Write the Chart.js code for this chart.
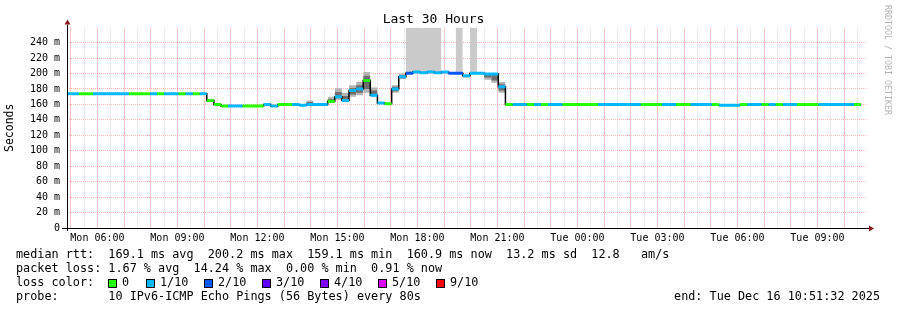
<!DOCTYPE html>
<html>
<head>
<meta charset="utf-8">
<title>Last 30 Hours</title>
<script src="https://cdn.jsdelivr.net/npm/chart.js@4/dist/chart.umd.min.js"></script>
<style>
  body { margin: 0; background: #fff; }
  #wrap { position: relative; width: 897px; height: 310px; font-family: 'DejaVu Sans Mono', monospace; color: #000; }
  #chart { position: absolute; left: 0; top: 0; }
  .line { position: absolute; left: 16px; font-size: 11.8px; line-height: 14px; white-space: pre; }
  .item { position: absolute; top: 0; white-space: pre; }
  .box { position: absolute; left: 0; top: 4px; width: 7px; height: 7px; border: 1px solid #000; }
  .item span.lbl { position: absolute; left: 14px; top: 0; }
  #end { position: absolute; right: 17px; top: 289px; font-size: 11.8px; line-height: 14px; white-space: pre; }
  #credit { position: absolute; left: 883px; top: 5px; writing-mode: vertical-rl; font-size: 8.3px; color: #b4b4b4; white-space: pre; }
</style>
</head>
<body>
<div id="wrap">
  <canvas id="chart" width="897" height="310"></canvas>
  <div class="line" style="top:247px">median rtt:  169.1 ms avg  200.2 ms max  159.1 ms min  160.9 ms now  13.2 ms sd  12.8   am/s</div>
  <div class="line" style="top:261px">packet loss: 1.67 % avg  14.24 % max  0.00 % min  0.91 % now</div>
  <div class="line" id="lossLine" style="top:275px">loss color:</div>
  <div class="line" style="top:289px">probe:       10 IPv6-ICMP Echo Pings (56 Bytes) every 80s</div>
  <div id="end">end: Tue Dec 16 10:51:32 2025</div>
  <div id="credit">RRDTOOL / TOBI OETIKER</div>
</div>
<script>
// time axis in minutes since Mon 00:00
const startMinute = 291.53;   // Mon 04:51:32
const endMinute = 2091.53;    // Tue 10:51:32

const xTickMinutes = [360, 540, 720, 900, 1080, 1260, 1440, 1620, 1800, 1980];
const xTickLabels = ['Mon 06:00', 'Mon 09:00', 'Mon 12:00', 'Mon 15:00', 'Mon 18:00',
                     'Mon 21:00', 'Tue 00:00', 'Tue 03:00', 'Tue 06:00', 'Tue 09:00'];

// median rtt (ms), one run per constant step, coloured by packet loss (tenths)
const runStart = [291.53, 318, 350, 430, 478, 494, 510, 542, 558, 574, 590, 606, 622, 638, 654, 686,
                  734, 750, 766, 798, 814, 830, 878, 894, 910, 926, 942, 958, 974, 990, 1006, 1022,
                  1038, 1054, 1070, 1086, 1102, 1118, 1134, 1150, 1182, 1198, 1230, 1262, 1278, 1294,
                  1326, 1342, 1358, 1374, 1406, 1486, 1582, 1630, 1662, 1694, 1742, 1758, 1806, 1822,
                  1854, 1870, 1886, 1902, 1934, 1982, 2062];
const runMedian = [174, 174, 174, 174, 174, 174, 174, 174, 174, 174, 174, 165, 160, 158, 158, 158,
                   160, 158, 160, 160, 159, 160, 164, 170, 165, 178, 180, 191, 172, 162, 161, 180,
                   196, 200.5, 202, 201, 202, 201, 202, 200.5, 197, 200.5, 199.5, 183, 160, 160,
                   160, 160, 160, 160, 160, 160, 160, 160, 160, 160, 160, 159, 160, 160,
                   160, 160, 160, 160, 160, 160, 160];
const runLoss = [1, 0, 1, 0, 1, 0, 1, 0, 1, 0, 1, 0, 0, 0, 1, 0,
                 1, 1, 0, 1, 1, 1, 0, 1, 1, 1, 1, 0, 1, 1, 0, 1,
                 1, 2, 1, 1, 1, 1, 1, 2, 1, 1, 1, 1, 0, 1,
                 0, 1, 0, 1, 0, 1, 0, 1, 0, 1, 0, 1, 0, 1,
                 0, 1, 0, 1, 0, 1, 0];
const dataEnd = 2078;

// smoke (spread of the pings) per step: outer and dense inner part
const smokeStart = [830, 878, 894, 910, 926, 942, 958, 974, 1022, 1038, 1182, 1230, 1246, 1262];
const smokeEnd   = [846, 894, 910, 926, 942, 958, 974, 990, 1038, 1054, 1198, 1246, 1262, 1278];
const smokeLow   = [160, 162, 166, 163, 170, 172, 175, 170, 175, 193, 195, 192, 188, 175];
const smokeHigh  = [165, 170, 181, 175, 185, 189, 202, 182, 185, 200, 198, 199, 199, 189];
const denseLow   = [160, 163, 168, 164, 173, 175, 180, 171, 177, 194, 196, 195, 191, 178];
const denseHigh  = [163, 167, 176, 171, 181, 185, 197, 178, 183, 198, 198, 199, 198, 186];

// smoke running off the top of the graph
const spikeStart = [1054, 1166, 1198];
const spikeEnd   = [1134, 1182, 1214];
const spikeLow   = [201, 201, 201];

const lossLabels = ['0', '1/10', '2/10', '3/10', '4/10', '5/10', '9/10'];
const lossColors = ['#26ff00', '#00b8ff', '#0059ff', '#5e00ff', '#7e00ff', '#dd00ff', '#ff0000'];

const yMax = 259.5;
const mono = 'DejaVu Sans Mono';

// loss colour legend
const lossLine = document.getElementById('lossLine');
lossLabels.forEach((label, i) => {
  const item = document.createElement('div');
  item.className = 'item';
  item.style.left = (i === 0 ? 92 : 130 + 58 * (i - 1)) + 'px';
  item.innerHTML = '<div class="box" style="background:' + lossColors[i] + '"></div><span class="lbl">' + label + '</span>';
  lossLine.appendChild(item);
});

const datasets = [];

// coloured median segments (top-most)
runStart.forEach((s, i) => {
  const e = i + 1 < runStart.length ? runStart[i + 1] : dataEnd;
  datasets.push({
    data: [{ x: s, y: runMedian[i] }, { x: e, y: runMedian[i] }],
    borderColor: lossColors[runLoss[i]],
    borderWidth: 3,
    borderCapStyle: 'butt',
    pointRadius: 0
  });
});

// black median line joining the steps
datasets.push({
  data: runStart.map((s, i) => ({ x: s, y: runMedian[i] }))
    .concat([{ x: dataEnd, y: runMedian[runMedian.length - 1] }]),
  stepped: true,
  borderColor: '#000',
  borderWidth: 1.5,
  pointRadius: 0
});

// dense smoke first so it sits above the lighter outer smoke
smokeStart.forEach((s, i) => {
  datasets.push({
    data: [{ x: s, y: denseHigh[i] }, { x: smokeEnd[i], y: denseHigh[i] }],
    fill: { value: denseLow[i] },
    backgroundColor: '#6e6e6e',
    borderWidth: 0,
    pointRadius: 0
  });
});

smokeStart.forEach((s, i) => {
  datasets.push({
    data: [{ x: s, y: smokeHigh[i] }, { x: smokeEnd[i], y: smokeHigh[i] }],
    fill: { value: smokeLow[i] },
    backgroundColor: '#b4b4b4',
    borderWidth: 0,
    pointRadius: 0
  });
});

spikeStart.forEach((s, i) => {
  datasets.push({
    data: [{ x: s, y: yMax }, { x: spikeEnd[i], y: yMax }],
    fill: { value: spikeLow[i] },
    backgroundColor: '#cacaca',
    borderWidth: 0,
    pointRadius: 0
  });
});

const majorGrid = 'rgba(255, 60, 60, 0.55)';
const majorGridY = 'rgba(255, 90, 90, 0.45)';
const minorGrid = 'rgba(150, 150, 150, 0.35)';
const minorGridY = 'rgba(150, 150, 150, 0.3)';
const isStep = (c, n) => c.tick && Math.round(c.tick.value) % n === 0;

const axisArrows = {
  id: 'axisArrows',
  afterDatasetsDraw(chart) {
    const { ctx, chartArea: a } = chart;
    const left = Math.round(a.left) + 0.5;
    const bottom = Math.round(a.bottom) + 0.5;
    ctx.save();
    ctx.strokeStyle = '#000';
    ctx.lineWidth = 1;
    ctx.beginPath();
    ctx.moveTo(a.left - 5, bottom);
    ctx.lineTo(a.right + 3, bottom);
    ctx.moveTo(left, a.bottom + 3);
    ctx.lineTo(left, a.top - 3);
    ctx.stroke();
    ctx.fillStyle = '#8b1a1a';
    ctx.beginPath();
    ctx.moveTo(left, a.top - 8);
    ctx.lineTo(left - 3, a.top - 3);
    ctx.lineTo(left + 3, a.top - 3);
    ctx.closePath();
    ctx.fill();
    ctx.beginPath();
    ctx.moveTo(a.right + 7, bottom);
    ctx.lineTo(a.right + 2, bottom - 3);
    ctx.lineTo(a.right + 2, bottom + 3);
    ctx.closePath();
    ctx.fill();
    ctx.restore();
  }
};

new Chart(document.getElementById('chart'), {
  type: 'line',
  data: { datasets },
  options: {
    responsive: false,
    animation: false,
    layout: { padding: { left: 0, right: 30, top: 0, bottom: 0 } },
    plugins: {
      legend: { display: false },
      tooltip: { enabled: false },
      title: {
        display: true,
        text: 'Last 30 Hours',
        color: '#000',
        font: { family: mono, size: 13, weight: 'normal' },
        padding: { top: 12, bottom: 0 }
      }
    },
    scales: {
      x: {
        type: 'linear',
        min: startMinute,
        max: endMinute,
        afterBuildTicks: axis => {
          const ticks = [];
          for (let v = Math.ceil(axis.min / 30) * 30; v <= axis.max; v += 30) ticks.push({ value: v });
          axis.ticks = ticks;
        },
        afterFit: scale => { scale.height = 82; },
        grid: {
          drawTicks: false,
          color: c => (isStep(c, 60) ? majorGrid : minorGrid)
        },
        border: { display: false, dash: [1, 1] },
        ticks: {
          autoSkip: false,
          maxRotation: 0,
          padding: 4,
          color: '#000',
          font: { family: mono, size: 10 },
          callback: v => {
            const i = xTickMinutes.indexOf(Math.round(v));
            return i >= 0 ? xTickLabels[i] : '';
          }
        }
      },
      y: {
        min: 0,
        max: yMax,
        afterBuildTicks: axis => {
          const ticks = [];
          for (let v = 0; v <= 250; v += 10) ticks.push({ value: v });
          axis.ticks = ticks;
        },
        afterFit: scale => { scale.width = 67; },
        grid: {
          drawTicks: false,
          color: c => (c.tick && c.tick.value === 0 ? 'rgba(0,0,0,0)' :
                       isStep(c, 20) ? majorGridY : minorGridY)
        },
        border: { display: false, dash: [1, 1] },
        title: {
          display: true,
          text: 'Seconds',
          color: '#000',
          font: { family: mono, size: 11.5 },
          padding: { top: 3, bottom: 0 }
        },
        ticks: {
          padding: 7,
          color: '#000',
          font: { family: mono, size: 10 },
          callback: v => (v % 20 === 0 ? (v === 0 ? '0' : v + ' m') : '')
        }
      }
    }
  },
  plugins: [axisArrows]
});
</script>
</body>
</html>
